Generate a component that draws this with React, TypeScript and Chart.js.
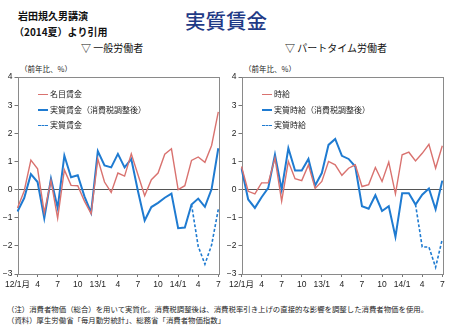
import React, { useEffect, useRef } from "react";
import { Chart, registerables } from "chart.js";

Chart.register(...registerables);

const categories = ["12/1月","2","3","4","5","6","7","8","9","10","11","12","13/1","2","3","4","5","6","7","8","9","10","11","12","14/1","2","3","4","5","6","7"];

const yTicks = [4, 3, 2, 1, 0, -1, -2, -3];

// 一般労働者
const nominalWage = [-0.65, -0.05, 1.05, 0.74, -0.82, 0.32, -1.02, 0.7, 0.15, 0.14, -0.41, -0.86, 1.09, 0.27, -0.1, 0.59, 0.48, 1.27, 0.53, -0.22, 0.35, 0.59, 1.26, 1.45, 0.0, 0.14, 1.04, 1.16, 0.97, 1.57, 2.76];
const realWageAdj = [-0.78, -0.3, 0.55, 0.27, -1.02, 0.39, -0.65, 1.21, 0.44, 0.51, -0.24, -0.82, 1.37, 0.86, 0.79, 1.27, 0.79, 1.09, -0.06, -1.1, -0.62, -0.47, -0.29, -0.14, -1.37, -1.35, -0.53, -0.32, -0.61, 0.02, 1.47];
const realWage = [null,null,null,null,null,null,null,null,null,null,null,null,null,null,null,null,null,null,null,null,null,null,null,null,null,null, -0.53, -2.02, -2.65, -1.97, -0.7];

// パートタイム労働者
const hourlyWage = [0.82, -0.06, -0.15, 0.24, 0.24, 1.12, -0.41, 1.0, 0.39, 0.32, 0.88, 0.04, 0.29, 1.0, 0.88, 0.51, 0.76, 0.88, 0.11, 0.18, 0.79, 0.29, 0.98, -0.15, 1.24, 1.33, 1.02, 1.29, 1.61, 0.76, 1.56];
const realHourlyAdj = [0.76, -0.35, -0.65, -0.27, 0.06, 1.24, 0.0, 1.47, 0.68, 0.68, 1.09, 0.15, 0.59, 1.59, 1.8, 1.2, 1.09, 0.82, -0.59, -0.68, -0.2, -0.76, -0.59, -1.68, -0.13, -0.13, -0.53, -0.18, 0.04, -0.7, 0.32];
const realHourly = [null,null,null,null,null,null,null,null,null,null,null,null,null,null,null,null,null,null,null,null,null,null,null,null,null,null, -0.53, -2.04, -2.04, -2.76, -1.76];

const RED = "#d9726f";
const BLUE = "#1f7bd1";
const FONT = "'Liberation Sans', 'Noto Sans CJK JP', sans-serif";
const JP = "'Noto Sans CJK JP', sans-serif";

type PanelProps = {
  left: number;
  yAxisWidth: number;
  padRight: number;
  names: string[];
  series: (number | null)[][];
};

function Panel({ left, yAxisWidth, padRight, names, series }: PanelProps) {
  const ref = useRef<HTMLCanvasElement | null>(null);
  useEffect(() => {
    if (!ref.current) return;
    const borderPlugin = {
      id: "boxBorder",
      beforeDatasetsDraw(chart: any) {
        const { ctx, chartArea } = chart;
        ctx.save();
        ctx.strokeStyle = "#8a8a8a";
        ctx.lineWidth = 1;
        ctx.strokeRect(Math.round(chartArea.left) + 0.5, Math.round(chartArea.top) + 0.5,
          Math.round(chartArea.right - chartArea.left), Math.round(chartArea.bottom - chartArea.top));
        ctx.restore();
      },
    };
    const chart = new Chart(ref.current, {
      type: "line",
      data: {
        labels: categories,
        datasets: [
          { label: names[0], data: series[0], borderColor: RED, borderWidth: 1.4, pointRadius: 0, tension: 0 },
          { label: names[1], data: series[1], borderColor: BLUE, borderWidth: 2, pointRadius: 0, tension: 0 },
          { label: names[2], data: series[2], borderColor: BLUE, borderWidth: 1.6, borderDash: [3, 2], pointRadius: 0, tension: 0, spanGaps: false },
        ],
      },
      options: {
        animation: false,
        responsive: false,
        maintainAspectRatio: false,
        layout: { padding: { top: 5, right: padRight, left: 0, bottom: 0 } },
        plugins: { legend: { display: false }, tooltip: { enabled: false } },
        scales: {
          x: {
            type: "category",
            offset: false,
            grid: {
              drawOnChartArea: false,
              drawTicks: true,
              tickLength: 3,
              tickColor: "#777",
            },
            border: { display: false },
            ticks: {
              autoSkip: false,
              maxRotation: 0,
              minRotation: 0,
              padding: 3,
              color: "#222",
              font: { family: FONT, size: 8.5 },
              callback: (_v: any, idx: number) => (idx % 3 === 0 ? categories[idx] : null),
            },
            afterFit: (s: any) => { s.height = 18; },
          },
          y: {
            min: -3,
            max: 4,
            afterBuildTicks: (s: any) => { s.ticks = yTicks.map((v) => ({ value: v })); },
            grid: {
              drawTicks: true,
              tickLength: 3,
              tickColor: "#777",
              color: (c: any) => (c.tick && c.tick.value === 0 ? "#555" : "rgba(0,0,0,0)"),
              lineWidth: 1,
            },
            border: { display: false },
            ticks: {
              padding: 2,
              color: "#222",
              font: { family: FONT, size: 8.5 },
              callback: (v: any) => (v < 0 ? "−" + Math.abs(v) : String(v)),
            },
            afterFit: (s: any) => { s.width = yAxisWidth; },
          },
        },
      },
      plugins: [borderPlugin],
    });
    return () => chart.destroy();
  }, []);
  return (
    <canvas
      ref={ref}
      width={225}
      height={222}
      style={{ position: "absolute", left, top: 70, width: 225, height: 222 }}
    />
  );
}

function Legend({ left, names }: { left: number; names: string[] }) {
  const rows = [
    { color: RED, dash: false, w: 1.4, y: 94 },
    { color: BLUE, dash: false, w: 2, y: 110 },
    { color: BLUE, dash: true, w: 1.6, y: 125 },
  ];
  return (
    <>
      {rows.map((r, i) => (
        <div key={i} style={{ position: "absolute", left, top: r.y - 6, height: 12, display: "flex", alignItems: "center" }}>
          <div style={{ width: 10, borderTop: `${r.w}px ${r.dash ? "dashed" : "solid"} ${r.color}`, marginRight: 2 }} />
          <span style={{ fontFamily: JP, fontSize: 8, color: "#222", whiteSpace: "nowrap", lineHeight: "12px" }}>{names[i]}</span>
        </div>
      ))}
    </>
  );
}

export default function App() {
  useEffect(() => {
    document.body.style.margin = "0";
  }, []);
  const leftNames = ["名目賃金", "実質賃金（消費税調整後）", "実質賃金"];
  const rightNames = ["時給", "実質時給（消費税調整後）", "実質時給"];
  const abs = (l: number, t: number, extra: any = {}) => ({ position: "absolute" as const, left: l, top: t, whiteSpace: "nowrap" as const, ...extra });
  return (
    <div style={{ position: "absolute", left: 0, top: 0, width: 450, height: 331, background: "#fff", overflow: "hidden" }}>
      <div style={abs(18, 9, { fontFamily: JP, fontWeight: 700, fontSize: 10, lineHeight: "14px", color: "#111" })}>岩田規久男講演</div>
      <div style={abs(14, 25, { fontFamily: JP, fontWeight: 700, fontSize: 10, lineHeight: "14px", color: "#111" })}>（2014夏）より引用</div>
      <div style={abs(185, 6, { fontFamily: JP, fontSize: 20.5, lineHeight: "28px", color: "#1f3a86", fontWeight: 500 })}>実質賃金</div>
      <div style={abs(81, 41, { fontFamily: JP, fontSize: 10, lineHeight: "14px", color: "#111" })}>▽ 一般労働者</div>
      <div style={abs(285, 41, { fontFamily: JP, fontSize: 10, lineHeight: "14px", color: "#111" })}>▽ パートタイム労働者</div>
      <div style={abs(20, 63, { fontFamily: JP, fontSize: 7.5, lineHeight: "12px", color: "#222" })}>（前年比、%）</div>
      <div style={abs(244, 63, { fontFamily: JP, fontSize: 7.5, lineHeight: "12px", color: "#222" })}>（前年比、%）</div>
      <Panel left={0} yAxisWidth={17.5} padRight={6.7} names={leftNames} series={[nominalWage, realWageAdj, realWage]} />
      <Panel left={225} yAxisWidth={16.5} padRight={7.7} names={rightNames} series={[hourlyWage, realHourlyAdj, realHourly]} />
      <Legend left={38} names={leftNames} />
      <Legend left={262} names={rightNames} />
      <div style={abs(7, 303, { fontFamily: JP, fontSize: 7.4, lineHeight: "11px", color: "#222" })}>（注）消費者物価（総合）を用いて実質化。消費税調整後は、消費税率引き上げの直接的な影響を調整した消費者物価を使用。</div>
      <div style={abs(7, 314, { fontFamily: JP, fontSize: 7.4, lineHeight: "11px", color: "#222" })}>（資料）厚生労働省「毎月勤労統計」、総務省「消費者物価指数」</div>
    </div>
  );
}
